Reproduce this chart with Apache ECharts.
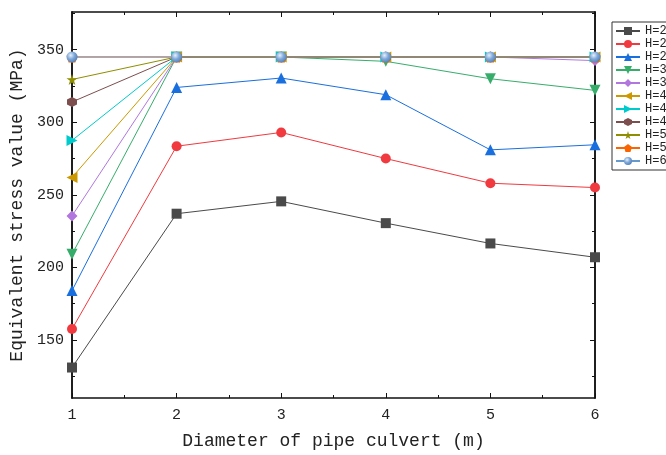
<!DOCTYPE html>
<html>
<head>
<meta charset="utf-8">
<script src="https://cdn.jsdelivr.net/npm/echarts@6/dist/echarts.min.js"></script>
<style>
  html, body { margin: 0; padding: 0; background: #fff; }
  #chart { width: 666px; height: 455px; }
</style>
</head>
<body>
<div id="chart"></div>
<script>
// 管涵直径 (m)
const diameters = [1, 2, 3, 4, 5, 6];
// 各埋深下的等效应力 (MPa)
const h20 = [131, 237, 245.5, 230.5, 216.5, 207];
const h24 = [157.5, 283.5, 293, 275, 258, 255];
const h28 = [184, 324, 330.5, 319, 281, 284.5];
const h32 = [209, 345, 345, 342, 330, 322];
const h36 = [235.5, 345, 345, 345, 345, 342.5];
const h40 = [262, 345, 345, 345, 345, 345];
const h44 = [287.5, 345, 345, 345, 345, 345];
const h48 = [314, 345, 345, 345, 345, 345];
const h52 = [329.5, 345, 345, 345, 345, 345];
const h56 = [345, 345, 345, 345, 345, 345];
const h60 = [345, 345, 345, 345, 345, 345];

const seriesNames = ['H=20', 'H=24', 'H=28', 'H=32', 'H=36', 'H=40', 'H=44', 'H=48', 'H=52', 'H=56', 'H=60'];
const seriesData = [h20, h24, h28, h32, h36, h40, h44, h48, h52, h56, h60];

// y轴刻度
const yTicks = [150, 200, 250, 300, 350];
const yMinorTicks = [125, 175, 225, 275, 325, 375];

const colors = ['#4a4a4a', '#f03a3f', '#1a6fdf', '#37ad6b', '#b177de', '#cc9900', '#00cbcc', '#7d4e4e', '#8e8e00', '#fb6501', '#6699cc'];
const symbols = [
  'rect', 'circle', 'triangle', 'triangle', 'diamond', 'triangle', 'triangle',
  'path://M5,0 L9.33,2.5 L9.33,7.5 L5,10 L0.67,7.5 L0.67,2.5 Z',
  'path://M50,0 L61,35 L98,35 L68,57 L79,91 L50,70 L21,91 L32,57 L2,35 L39,35 Z',
  'path://M50,0 L97.6,34.5 L79.4,90.5 L20.6,90.5 L2.4,34.5 Z',
  'circle'
];
const rotates = [0, 0, 0, 180, 0, 90, -90, 0, 0, 0, 0];
const sizes = [10, 10, 11, 11, 11, 11, 11, 10, 11, 11, 11];

const font = 'Liberation Mono';

const myChart = echarts.init(document.getElementById('chart'));

const xBase = {
  type: 'value',
  min: 1,
  max: 6,
  interval: 1,
  splitLine: { show: false },
  axisLine: { onZero: false, lineStyle: { color: '#111', width: 1.5 } },
  axisTick: { inside: true, length: 5, lineStyle: { color: '#111' } },
  minorTick: { show: true, splitNumber: 2, length: 3, lineStyle: { color: '#111' } }
};

const yBase = {
  type: 'value',
  min: 110,
  max: 376,
  splitLine: { show: false },
  axisLine: { show: true, onZero: false, lineStyle: { color: '#111', width: 1.5 } },
  axisLabel: { show: false }
};

myChart.setOption({
  animation: false,
  backgroundColor: '#fff',
  grid: { left: 72, right: 71, top: 12, bottom: 53 },
  legend: {
    orient: 'vertical',
    left: 612,
    top: 22,
    padding: [3, 4, 3, 3],
    itemWidth: 24,
    itemHeight: 10,
    itemGap: 1,
    borderColor: '#333',
    borderWidth: 1,
    borderRadius: 0,
    textStyle: { fontFamily: font, fontSize: 12, color: '#222' },
    data: seriesNames
  },
  xAxis: [
    Object.assign({}, xBase, {
      position: 'bottom',
      name: 'Diameter of pipe culvert (m)',
      nameLocation: 'middle',
      nameGap: 34,
      nameTextStyle: { fontFamily: font, fontSize: 18, color: '#222' },
      axisLabel: { margin: 10, fontFamily: font, fontSize: 15, color: '#222' }
    }),
    Object.assign({}, xBase, { position: 'top', axisLabel: { show: false } })
  ],
  yAxis: [
    Object.assign({}, yBase, {
      position: 'left',
      name: 'Equivalent stress value (MPa)',
      nameLocation: 'middle',
      nameGap: 34,
      nameTextStyle: { fontFamily: font, fontSize: 18, color: '#222' },
      axisLabel: { show: true, margin: 8, fontFamily: font, fontSize: 15, color: '#222', customValues: yTicks },
      axisTick: { inside: true, length: 5, lineStyle: { color: '#111' }, customValues: yTicks }
    }),
    Object.assign({}, yBase, {
      position: 'left',
      axisTick: { inside: true, length: 3, lineStyle: { color: '#111' }, customValues: yMinorTicks }
    }),
    Object.assign({}, yBase, {
      position: 'right',
      axisTick: { inside: true, length: 5, lineStyle: { color: '#111' }, customValues: yTicks }
    }),
    Object.assign({}, yBase, {
      position: 'right',
      axisTick: { inside: true, length: 3, lineStyle: { color: '#111' }, customValues: yMinorTicks }
    })
  ],
  series: seriesNames.map((name, i) => {
    let itemColor = colors[i];
    if (i === 10) {
      // 球形标记
      itemColor = {
        type: 'radial', x: 0.38, y: 0.35, r: 0.7,
        colorStops: [
          { offset: 0, color: '#e6f0fa' },
          { offset: 0.5, color: '#7fa8d8' },
          { offset: 1, color: '#4f7fba' }
        ]
      };
    }
    return {
      name: name,
      type: 'line',
      xAxisIndex: 0,
      yAxisIndex: 0,
      data: diameters.map((d, j) => [d, seriesData[i][j]]),
      symbol: symbols[i],
      symbolSize: sizes[i],
      symbolRotate: rotates[i],
      showAllSymbol: true,
      lineStyle: { color: colors[i], width: 1 },
      itemStyle: { color: itemColor, borderWidth: 0 }
    };
  })
});
</script>
</body>
</html>
